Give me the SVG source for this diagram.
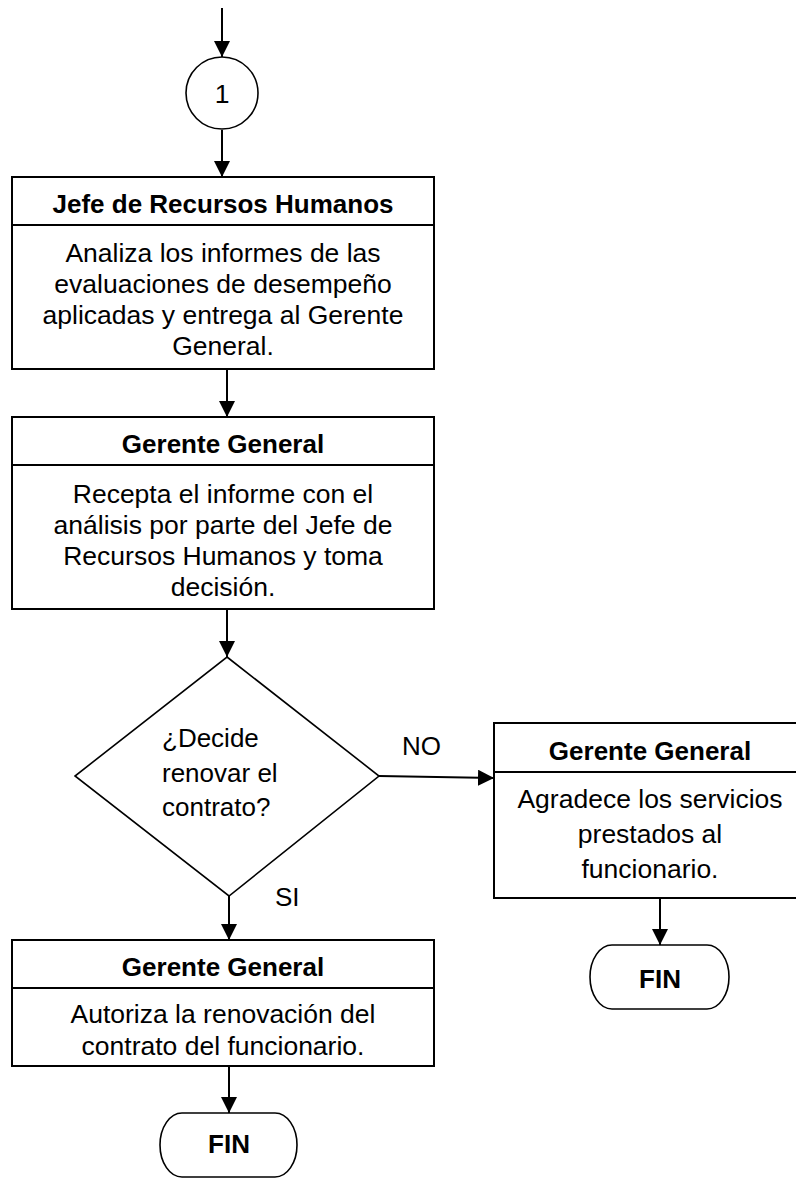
<svg xmlns="http://www.w3.org/2000/svg" width="796" height="1183" viewBox="0 0 796 1183">
  <style>
    .box { fill: #fff; stroke: #000; stroke-width: 2; }
    .sep { stroke: #000; stroke-width: 2; }
    .shape { fill: #fff; stroke: #000; stroke-width: 1.6; }
    .edge { stroke: #000; stroke-width: 2; fill: none; marker-end: url(#arrow); }
    .hd { font-family: "Liberation Sans", Arial, sans-serif; font-size: 26px; font-weight: bold; fill: #000; text-anchor: middle; }
    .tx { font-family: "Liberation Sans", Arial, sans-serif; font-size: 26.5px; fill: #000; text-anchor: middle; }
    .lb { font-family: "Liberation Sans", Arial, sans-serif; font-size: 26px; fill: #000; }
  </style>
  <defs>
    <marker id="arrow" viewBox="0 0 16 16" refX="16" refY="8" markerWidth="16" markerHeight="16" markerUnits="userSpaceOnUse" orient="auto">
      <path d="M0,0 L16,8 L0,16 Z" fill="#000"/>
    </marker>
  </defs>

  <!-- connectors -->
  <g id="connectors">
    <line class="edge" x1="222" y1="8" x2="222" y2="57"/>
    <line class="edge" x1="222" y1="130" x2="222" y2="177"/>
    <line class="edge" x1="227" y1="369" x2="227" y2="417"/>
    <line class="edge" x1="227" y1="609" x2="227" y2="657"/>
    <line class="edge" x1="379" y1="776" x2="494" y2="778"/>
    <line class="edge" x1="229" y1="896" x2="229" y2="940"/>
    <line class="edge" x1="229" y1="1066" x2="229" y2="1113"/>
    <line class="edge" x1="660" y1="898" x2="660" y2="945"/>
    <text class="lb" x="402" y="755">NO</text>
    <text class="lb" x="275" y="906">SI</text>
  </g>

  <!-- off-page connector -->
  <g id="conector-1">
    <circle class="shape" cx="222" cy="93" r="36"/>
    <text class="tx" x="222" y="103">1</text>
  </g>

  <!-- Jefe de Recursos Humanos: analiza informes -->
  <g id="analiza-informes">
    <rect class="box" x="12" y="177" width="422" height="192"/>
    <line class="sep" x1="12" y1="225" x2="434" y2="225"/>
    <text class="hd" x="223" y="213">Jefe de Recursos Humanos</text>
    <text class="tx" x="223" y="262">Analiza los informes de las</text>
    <text class="tx" x="223" y="293">evaluaciones de desempeño</text>
    <text class="tx" x="223" y="324">aplicadas y entrega al Gerente</text>
    <text class="tx" x="223" y="355">General.</text>
  </g>

  <!-- Gerente General: recepta informe -->
  <g id="recepta-informe">
    <rect class="box" x="12" y="417" width="422" height="192"/>
    <line class="sep" x1="12" y1="465" x2="434" y2="465"/>
    <text class="hd" x="223" y="453">Gerente General</text>
    <text class="tx" x="223" y="503">Recepta el informe con el</text>
    <text class="tx" x="223" y="534">análisis por parte del Jefe de</text>
    <text class="tx" x="223" y="565">Recursos Humanos y toma</text>
    <text class="tx" x="223" y="596">decisión.</text>
  </g>

  <!-- decision -->
  <g id="decision-renovar">
    <polygon class="shape" points="227,657 379,776 229,896 75,776"/>
    <text class="lb" x="162" y="747">¿Decide</text>
    <text class="lb" x="162" y="782">renovar el</text>
    <text class="lb" x="162" y="816">contrato?</text>
  </g>

  <!-- Gerente General: agradece servicios -->
  <g id="agradece-servicios">
    <rect class="box" x="494" y="723" width="312" height="175"/>
    <line class="sep" x1="494" y1="772" x2="806" y2="772"/>
    <text class="hd" x="650" y="760">Gerente General</text>
    <text class="tx" x="650" y="808">Agradece los servicios</text>
    <text class="tx" x="650" y="843">prestados al</text>
    <text class="tx" x="650" y="878">funcionario.</text>
  </g>

  <!-- Gerente General: autoriza renovacion -->
  <g id="autoriza-renovacion">
    <rect class="box" x="12" y="940" width="422" height="126"/>
    <line class="sep" x1="12" y1="988" x2="434" y2="988"/>
    <text class="hd" x="223" y="976">Gerente General</text>
    <text class="tx" x="223" y="1023">Autoriza la renovación del</text>
    <text class="tx" x="223" y="1055">contrato del funcionario.</text>
  </g>

  <!-- end terminals -->
  <g id="fin-no">
    <path class="shape" d="M612,945 H707 A22,32 0 0 1 707,1009 H612 A22,32 0 0 1 612,945 Z"/>
    <text class="hd" x="660" y="988">FIN</text>
  </g>
  <g id="fin-si">
    <path class="shape" d="M182,1113 H275 A22,32 0 0 1 275,1177 H182 A22,32 0 0 1 182,1113 Z"/>
    <text class="hd" x="229" y="1153">FIN</text>
  </g>
</svg>
